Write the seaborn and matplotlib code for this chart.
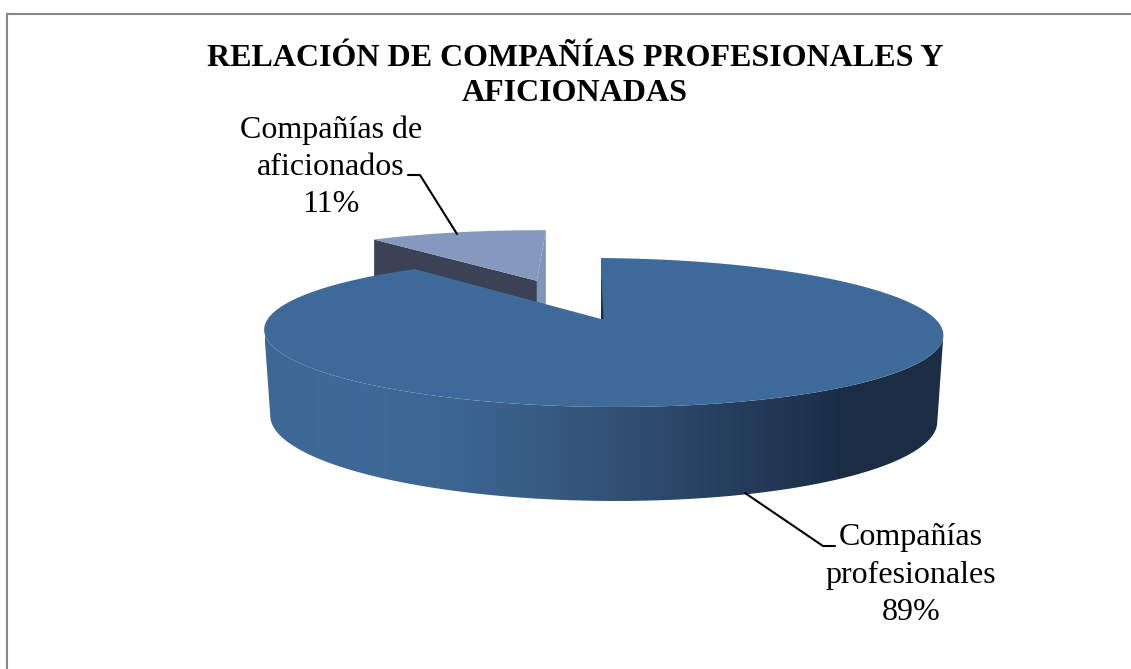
import numpy as np
import matplotlib
matplotlib.use("Agg")
import matplotlib.pyplot as plt
from matplotlib.patches import Polygon
import seaborn as sns

# Datos del gráfico
titulo = "RELACIÓN DE COMPAÑÍAS PROFESIONALES Y\nAFICIONADAS"
categorias = ["Compañías\nprofesionales", "Compañías de\naficionados"]
valores = [89, 11]

sns.set_theme(style="white")
plt.rcParams["font.family"] = ["Liberation Serif", "DejaVu Serif"]

COLOR_CARA = "#3e6a9a"
COLOR_CHICA = "#8499bd"
COLOR_PARED = "#3c4255"
COLOR_BORDE_INT = "#7f95b9"
EXPLOSION = (-0.2125, 0.58)
rampa = sns.blend_palette(["#3d6895", "#3e6a99", "#3c6591", "#37597f",
                           "#2d4b6e", "#243b5a", "#1b2d45", "#1b2d45"], as_cmap=True)


def proyectar(u, v):
    """Perspectiva del disco unidad a coordenadas de la figura."""
    den = 1 + 0.181 * v - 0.008 * u
    return 601 + 334 * u / den, (319 - 14.25 * v) / den


def base(x, y):
    """Pasa el borde superior al borde inferior del cilindro."""
    return 605 + (x - 605) * 0.982, 418 + (y - 332) * 83 / 75


def arco(t0, t1, du=0, dv=0, n=240):
    t = np.radians(np.linspace(t0, t1, n))
    return proyectar(np.sin(t) + du, np.cos(t) + dv)


fig = plt.figure(figsize=(11.31, 6.69), dpi=100)
ax = fig.add_axes([7 / 1131, 0, 1 - 7 / 1131, 1 - 13.5 / 669])
ax.set_xlim(7, 1131)
ax.set_ylim(669, 13.5)
ax.set_xticks([])
ax.set_yticks([])
for lado in ["right", "bottom"]:
    ax.spines[lado].set_visible(False)
for lado in ["left", "top"]:
    ax.spines[lado].set_color("#888888")
    ax.spines[lado].set_linewidth(1.5)
    ax.spines[lado].set_zorder(10)

angulo = 360 * valores[0] / sum(valores)

# Porción separada (aficionados)
du, dv = EXPLOSION
cx, cy = proyectar(du, dv)
rx0, ry0 = proyectar(du, 1 + dv)
rx1, ry1 = arco(angulo, angulo, du, dv, 1)
ax.fill([cx, rx0, rx0, cx], [cy, ry0, ry0 + 75, cy + 75], color=COLOR_BORDE_INT, lw=0, zorder=1)
ax.fill([cx, rx1[0], rx1[0], cx], [cy, ry1[0], ry1[0] + 75, cy + 75], color=COLOR_PARED, lw=0, zorder=2)
xa, ya = arco(angulo, 360, du, dv)
ax.fill(np.r_[cx, xa], np.r_[cy, ya], color=COLOR_CHICA, lw=0, zorder=3)

# Lateral de la porción grande con degradado
k = 0.181
frente = np.degrees(np.arctan2(np.sqrt(1 - k ** 2), -k))
xs, ys = arco(frente, 360 - frente)
xb, yb = base(xs, ys)
contorno = Polygon(np.c_[np.r_[xs, xb[::-1]], np.r_[ys, yb[::-1]]], closed=True,
                   transform=ax.transData, facecolor="none", edgecolor="none")
ax.add_patch(contorno)
degradado = ax.imshow(np.linspace(0, 1, 680)[None, :], cmap=rampa, vmin=0, vmax=1,
                      extent=(265, 945, 520, 320), aspect="auto", zorder=4)
degradado.set_clip_path(contorno)
ax.set_xlim(7, 1131)
ax.set_ylim(669, 13.5)

# Cara superior de la porción grande
xt, yt = arco(0, angulo)
tx, ty = proyectar(0, 0)
ax.fill(np.r_[tx, xt], np.r_[ty, yt], color=COLOR_CARA, lw=0, zorder=5)

# Filo oscuro del corte
ax.fill([xt[0] + 0.3, tx, tx + 2.5], [yt[0] + 15, ty, ty], color="#1b2d45", lw=0, zorder=6)

# Textos
ax.text(575, 76, titulo, ha="center", va="center", fontsize=23, fontweight="bold",
        color="black", linespacing=1.3, zorder=7)
ax.text(331, 167, f"{categorias[1]}\n{valores[1]}%", ha="center", va="center",
        fontsize=23, color="black", linespacing=1.37, zorder=7)
ax.text(911, 575, f"{categorias[0]}\n{valores[0]}%", ha="center", va="center",
        fontsize=23, color="black", linespacing=1.37, zorder=7)

# Líneas guía
ax.plot([408, 420, 457], [175, 175, 234], color="black", lw=1.5, zorder=7)
ax.plot([745, 823, 835], [493, 546, 546], color="black", lw=1.5, zorder=7)

fig.savefig("out.png", dpi=100, facecolor="white")
